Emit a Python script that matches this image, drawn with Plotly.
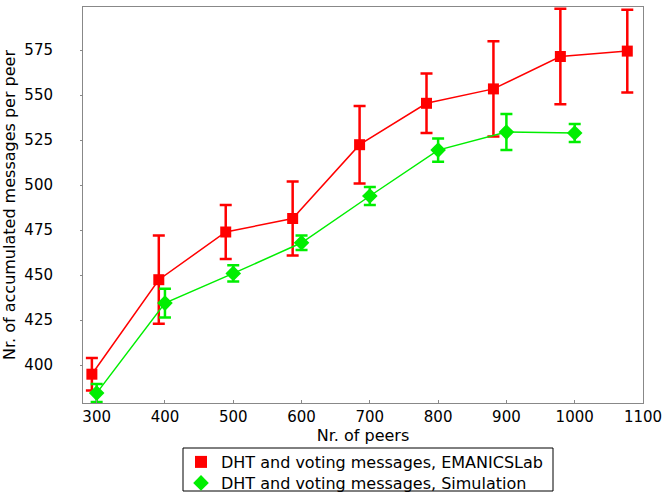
import plotly.graph_objects as go

# EMANICSLab measurements
lab_peers = [293, 391, 489, 587, 685, 783, 881, 979, 1077]
lab_msgs = [395, 447.5, 474, 481.5, 522.5, 545.5, 553.5, 571.5, 574.5]
lab_err = [9, 24.5, 15, 20.5, 21.5, 16.5, 26.5, 26.5, 23]

# Simulation results
sim_peers = [300, 400, 500, 600, 700, 800, 900, 1000]
sim_msgs = [384.5, 434.5, 451, 468, 494, 519.5, 529.5, 529]
sim_err = [5, 8, 4.5, 4, 5, 6.5, 10, 5]

x_ticks = [300, 400, 500, 600, 700, 800, 900, 1000, 1100]
y_ticks = [400, 425, 450, 475, 500, 525, 550, 575]

RED = "#ff0000"
GREEN = "#00ee00"

W, H = 666, 492
ML, MR, MT, MB = 83, 23, 7, 89
PW, PH = W - ML - MR, H - MT - MB

fig = go.Figure()

for xs, ys, es, color, sym, size, name, lg in [
    (lab_peers, lab_msgs, lab_err, RED, "square", 11, "DHT and voting messages, EMANICSLab", "legend"),
    (sim_peers, sim_msgs, sim_err, GREEN, "diamond", 12, "DHT and voting messages, Simulation", "legend2"),
]:
    fig.add_trace(go.Scatter(
        x=xs, y=ys, mode="lines", line=dict(color=color, width=1.5),
        showlegend=False, hoverinfo="skip"))
    fig.add_trace(go.Scatter(
        x=xs, y=ys, mode="markers", name=name, legend=lg,
        marker=dict(color=color, symbol=sym, size=size, line=dict(width=0)),
        error_y=dict(type="data", array=es, visible=True, color=color,
                     thickness=2.5, width=6)))

# legend frame (pixel positions within the figure)
box_l, box_r, box_t, box_b = 183, 553, 448, 491
leg_left = 181
fig.add_shape(type="rect", xref="paper", yref="paper",
              x0=(box_l - ML) / PW, x1=(box_r - ML) / PW,
              y0=(MT + PH - box_t) / PH, y1=(MT + PH - box_b) / PH,
              line=dict(color="black", width=1), fillcolor="rgba(0,0,0,0)")

leg_common = dict(xref="paper", x=(leg_left - ML) / PW, xanchor="left",
                  yref="container", yanchor="top", borderwidth=0,
                  bgcolor="rgba(0,0,0,0)", font=dict(size=16),
                  itemsizing="constant")

fig.update_layout(
    width=W, height=H,
    margin=dict(l=ML, r=MR, t=MT, b=MB),
    paper_bgcolor="white", plot_bgcolor="white",
    font=dict(family="DejaVu Sans", size=15, color="black"),
    legend=dict(y=(H - 445) / H, **leg_common),
    legend2=dict(y=(H - 466) / H, **leg_common),
    xaxis=dict(range=[280, 1100], tickvals=x_ticks, automargin=False,
               showgrid=False, zeroline=False, showline=True, linecolor="#888888",
               linewidth=1, mirror=True, ticks="inside", ticklen=3, tickcolor="#888888",
               tickfont=dict(size=15),
               title=dict(text="Nr. of peers", standoff=5, font=dict(size=16))),
    yaxis=dict(range=[379, 599], tickvals=y_ticks, automargin=False,
               showgrid=False, zeroline=False, showline=True, linecolor="#888888",
               linewidth=1, mirror=True, ticks="outside", ticklen=2, tickcolor="#888888",
               tickfont=dict(size=15), ticklabelstandoff=24,
               title=dict(text="Nr. of accumulated messages per peer", standoff=5,
                          font=dict(size=16))),
)

fig.write_html("out.html", config={"displayModeBar": False},
               post_script="document.body.style.margin='0';")
